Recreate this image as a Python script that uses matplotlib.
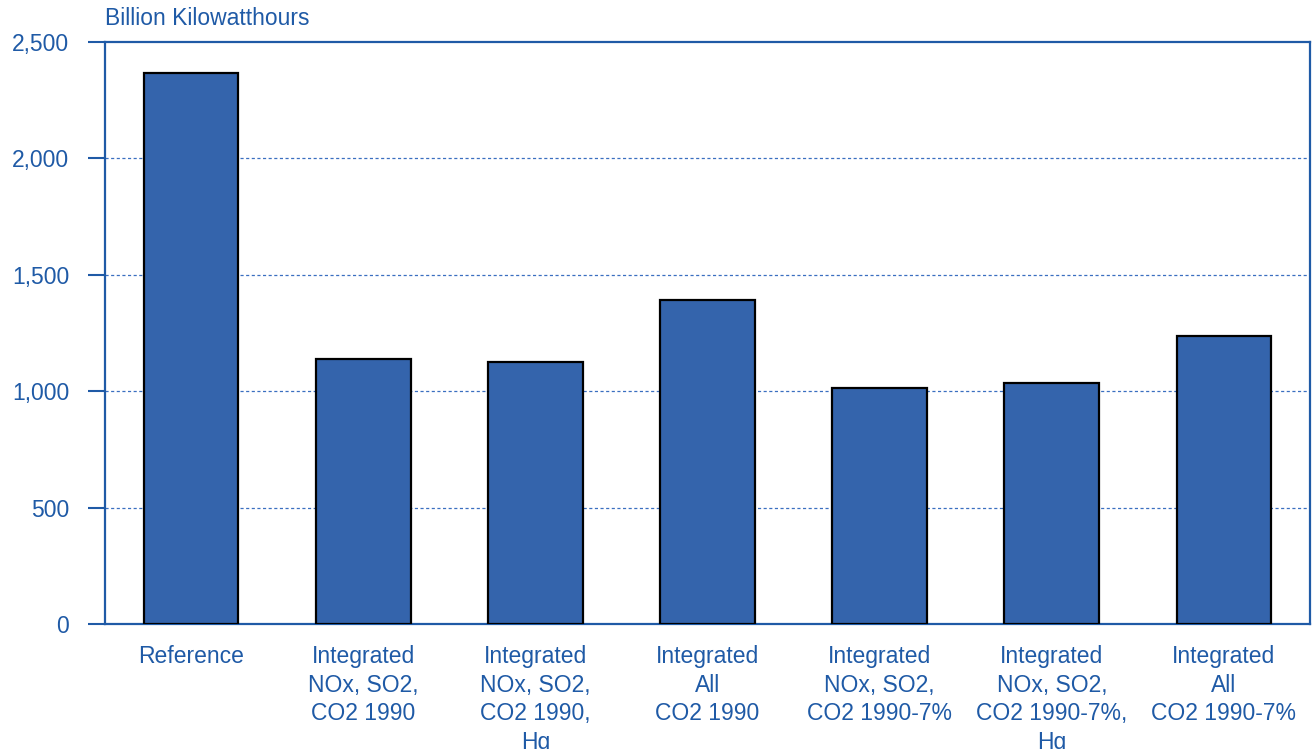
import matplotlib
matplotlib.use("Agg")
import matplotlib.pyplot as plt

# Generation by scenario
categories = [
    "Reference",
    "Integrated\nNOx, SO2,\nCO2 1990",
    "Integrated\nNOx, SO2,\nCO2 1990,\nHg",
    "Integrated\nAll\nCO2 1990",
    "Integrated\nNOx, SO2,\nCO2 1990-7%",
    "Integrated\nNOx, SO2,\nCO2 1990-7%,\nHg",
    "Integrated\nAll\nCO2 1990-7%",
]
values = [2367, 1138, 1125, 1392, 1014, 1035, 1237]
yticks = [0, 500, 1000, 1500, 2000, 2500]

BLUE_TEXT = "#1F5AA6"
BAR_FILL = "#3464AC"
FS = 16.5

plt.rcParams["font.family"] = ["Liberation Sans", "DejaVu Sans"]

fig = plt.figure(figsize=(13.12, 7.49), dpi=100)
ax = fig.add_axes([105 / 1312, 1 - 624 / 749, 1205 / 1312, 582 / 749])

x = range(len(categories))
ax.bar(x, values, width=0.55, color=BAR_FILL, edgecolor="black",
       linewidth=1.6, zorder=3)

ax.set_xlim(-0.5, len(categories) - 0.5)
ax.set_ylim(0, 2500)
ax.set_yticks(yticks, [f"{v:,}" for v in yticks])
ax.set_xticks(list(x), categories, linespacing=1.32, va="top")
ax.tick_params(axis="y", length=12.2, width=1.5, color=BLUE_TEXT,
               labelcolor=BLUE_TEXT, labelsize=FS, pad=13.5, direction="out")
ax.tick_params(axis="x", length=0, labelcolor=BLUE_TEXT, labelsize=FS,
               pad=15)

for y in yticks[1:-1]:
    ax.axhline(y, color="#3A6FC0", linewidth=0.9, linestyle=(0, (2.5, 2)),
               zorder=1)

for side in ["left", "right", "top", "bottom"]:
    ax.spines[side].set_color(BLUE_TEXT)
    ax.spines[side].set_linewidth(1.6)

ax.text(0, 1.02, "Billion Kilowatthours", transform=ax.transAxes,
        ha="left", va="bottom", color=BLUE_TEXT, fontsize=FS)

fig.savefig("out.png", dpi=100)
